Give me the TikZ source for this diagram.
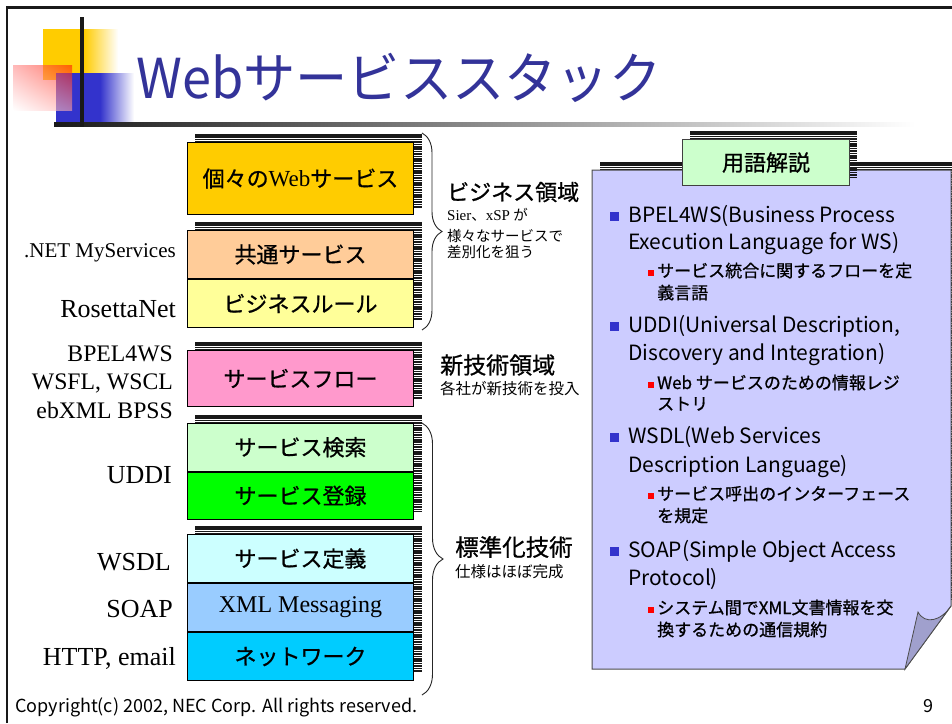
\documentclass[tikz,border=0pt]{standalone}
\usepackage{fontspec}
\setmainfont{Liberation Serif}
\newfontfamily\jp{Noto Sans CJK JP}
\newfontfamily\jpb[FakeBold=0.8]{Noto Sans CJK JP}
\newfontfamily\jpt[FakeStretch=0.95]{Noto Sans CJK JP}
\usetikzlibrary{decorations.pathreplacing,shadings}
\definecolor{cA}{HTML}{FFCC00}
\definecolor{cB}{HTML}{FFCC99}
\definecolor{cC}{HTML}{FFFF99}
\definecolor{cD}{HTML}{FF99CC}
\definecolor{cE}{HTML}{CCFFCC}
\definecolor{cF}{HTML}{00FF00}
\definecolor{cG}{HTML}{CCFFFF}
\definecolor{cH}{HTML}{99CCFF}
\definecolor{cI}{HTML}{00CCFF}
\definecolor{panelc}{HTML}{CCCCFF}
\definecolor{flapc}{RGB}{160,160,205}
\definecolor{tabc}{HTML}{CCFFCC}
\definecolor{titlec}{RGB}{51,51,153}
\definecolor{bulb}{HTML}{3333CC}
\definecolor{logoY}{HTML}{FFCC00}
\definecolor{logoB}{HTML}{3333CC}
\newcommand\stripes[4]{%
  \begin{scope}
    \clip (#1,#2) rectangle (#3,#4);
    \pgfmathtruncatemacro\nnst{(#4-#2)/2.4+1}
    \foreach \k in {0,...,\nnst}{\fill[black!90] (#1,{#2+\k*2.4}) rectangle (#3,{#2+\k*2.4+1.6});}
  \end{scope}}
\tikzset{
  stackbox/.style={draw=black, line width=1pt, minimum width=226pt, inner sep=0pt,
    anchor=north west, font=\jpb\fontsize{22}{24}\selectfont},
  leftlab/.style={anchor=base east, inner sep=0pt, font=\rmfamily\fontsize{26}{28}\selectfont},
  leftlabs/.style={anchor=base east, inner sep=0pt, font=\rmfamily\fontsize{23.7}{26}\selectfont},
  bigcap/.style={anchor=west, inner sep=0pt, font=\jpb\fontsize{22}{24}\selectfont},
  smallcap/.style={anchor=west, inner sep=0pt, font=\jp\fontsize{14.5}{16}\selectfont},
  ptext/.style={anchor=base west, inner sep=0pt, font=\jp\fontsize{21}{24}\selectfont},
  psub/.style={anchor=base west, inner sep=0pt, font=\jpb\fontsize{17}{20}\selectfont},
  bblue/.style={fill=bulb, minimum size=9pt, inner sep=0pt},
  bred/.style={fill=red, minimum size=6pt, inner sep=0pt},
  bracestyle/.style={decorate, decoration={brace, amplitude=20pt}, line width=0.9pt, black!85}
}
\begin{document}
\begin{tikzpicture}[x=1pt,y=-1pt]
\useasboundingbox (0,0) rectangle (952,723);
\fill[white] (0,0) rectangle (952,723);
% frame
\draw[line width=2.2pt, black!90] (7,723) -- (7,7.5) -- (952,7.5);
% logo
\fill[logoY] (43,29) rectangle (84,80);
\shade[left color=logoY, right color=white] (84,29) rectangle (118,80);
\fill[logoB] (56,73) rectangle (100,122);
\shade[left color=logoB, right color=white] (100,73) rectangle (134,122);
\shade[fill opacity=0.6, upper right=red!90!yellow, upper left=red!45, lower left=white, lower right=red!35] (13,65) rectangle (72,110);
\shade[left color=black!90, right color=white] (54,122) rectangle (915,126);
\fill[black!90] (80,17) rectangle (84,127);
% title
\node[anchor=base west, inner sep=0pt, text=titlec, font=\jpt\fontsize{55}{60}\selectfont] (title) at (136,98) {Webサービススタック};

% stack shadows
\stripes{195}{134}{422}{207}
\stripes{195}{222}{422}{319}
\stripes{195}{342}{422}{399}
\stripes{195}{415}{422}{511}
\stripes{195}{526}{422}{671}
% stack boxes
\node[stackbox, fill=cA, minimum height=72pt] (b1) at (187,142) {個々の{\rmfamily\fontsize{23}{24}\selectfont Web}サービス};
\node[stackbox, fill=cB, minimum height=48pt] (b2) at (187,230) {共通サービス};
\node[stackbox, fill=cC, minimum height=48pt] (b3) at (b2.south west) {ビジネスルール};
\node[stackbox, fill=cD, minimum height=56pt] (b4) at (187,350) {サービスフロー};
\node[stackbox, fill=cE, minimum height=47.5pt] (b5) at (187,423) {サービス検索};
\node[stackbox, fill=cF, minimum height=47.5pt] (b6) at (b5.south west) {サービス登録};
\node[stackbox, fill=cG, minimum height=48pt] (b7) at (187,534) {サービス定義};
\node[stackbox, fill=cH, minimum height=48pt, font=\rmfamily\fontsize{24}{26}\selectfont] (b8) at (b7.south west) {XML Messaging};
\node[stackbox, fill=cI, minimum height=48pt] (b9) at (b8.south west) {ネットワーク};

% left labels
\node[leftlab, font=\rmfamily\fontsize{21}{24}\selectfont] (l1) at (176,257) {.NET MyServices};
\node[leftlab] (l2) at (176,317) {RosettaNet};
\node[leftlabs] (l3) at (173,361) {BPEL4WS};
\node[leftlabs] (l4) at (173,389) {WSFL, WSCL};
\node[leftlabs] (l5) at (173,418) {ebXML BPSS};
\node[leftlab] (l6) at (172,483) {UDDI};
\node[leftlab] (l7) at (171,570) {WSDL};
\node[leftlab] (l8) at (173,617) {SOAP};
\node[leftlab] (l9) at (176,665) {HTTP, email};

% braces
\coordinate (br1a) at (422,133);
\coordinate (br1b) at (422,330);
\coordinate (br2a) at (422,423);
\coordinate (br2b) at (422,695);
\draw[bracestyle] (br1a) -- (br1b);
\draw[bracestyle, decoration={brace, amplitude=21pt}] (br2a) -- (br2b);

% right-of-brace texts
\node[bigcap] (t1) at (447,192) {ビジネス領域};
\node[smallcap] (t1a) at (447,215) {{\rmfamily\fontsize{15}{16}\selectfont Sier}、{\rmfamily\fontsize{15}{16}\selectfont xSP} が};
\node[smallcap] (t1b) at (447,236) {様々なサービスで};
\node[smallcap] (t1c) at (447,252) {差別化を狙う};
\node[bigcap, font=\jpb\fontsize{23}{25}\selectfont] (t2) at (440,365) {新技術領域};
\node[smallcap, font=\jp\fontsize{15.5}{17}\selectfont] (t2a) at (440,388.5) {各社が新技術を投入};
\node[bigcap, font=\jpb\fontsize{23.5}{25}\selectfont] (t3) at (455,547) {標準化技術};
\node[smallcap, font=\jp\fontsize{15.5}{17}\selectfont] (t3a) at (455,571.5) {仕様はほぼ完成};

% panel
\stripes{600}{162}{958}{600}
\path[draw=black!70, fill=panelc, line width=1pt] (592,170) -- (951,170) -- (951,606) -- (905,669) -- (592,669) -- cycle;
\path[draw=black!70, fill=flapc, line width=0.8pt] (905,669) -- (918,612) .. controls (925,625) and (941,621) .. (951,606) -- cycle;
\stripes{690}{131}{857}{178}
\node[draw=black!75, line width=1pt, fill=tabc, minimum width=167pt, minimum height=46pt, anchor=north west, inner sep=0pt, font=\jpb\fontsize{22}{24}\selectfont] (tab) at (682,139) {用語解説};

% panel text
\node[bblue] (u1) at (614.5,216) {};
\node[ptext] (p1) at (628,222) {BPEL4WS(Business Process};
\node[ptext] (p2) at (628,249) {Execution Language for WS)};
\node[bred] (r1) at (651,273) {};
\node[psub] (s1) at (657,277) {サービス統合に関するフローを定};
\node[psub] (s2) at (657,299) {義言語};
\node[bblue] (u2) at (614.5,326) {};
\node[ptext] (p3) at (628,332) {UDDI(Universal Description,};
\node[ptext] (p4) at (628,360) {Discovery and Integration)};
\node[bred] (r2) at (651,385) {};
\node[psub] (s3) at (657,389) {Web サービスのための情報レジ};
\node[psub] (s4) at (657,410) {ストリ};
\node[bblue] (u3) at (614.5,437) {};
\node[ptext] (p5) at (628,443) {WSDL(Web Services};
\node[ptext] (p6) at (628,472) {Description Language)};
\node[bred] (r3) at (651,496) {};
\node[psub] (s5) at (657,500) {サービス呼出のインターフェース};
\node[psub] (s6) at (657,522) {を規定};
\node[bblue] (u4) at (614.5,551) {};
\node[ptext] (p7) at (628,557) {SOAP(Simple Object Access};
\node[ptext] (p8) at (628,585) {Protocol)};
\node[bred] (r4) at (651,610) {};
\node[psub] (s7) at (657,614) {システム間でXML文書情報を交};
\node[psub] (s8) at (657,636) {換するための通信規約};

% footer
\node[anchor=base west, inner sep=0pt, font=\jp\fontsize{18}{20}\selectfont] (copy) at (15,712) {Copyright(c) 2002, NEC Corp. All rights reserved.};
\node[anchor=base west, inner sep=0pt, font=\jp\fontsize{18}{20}\selectfont] (pg) at (923,712) {9};
\end{tikzpicture}
\end{document}
